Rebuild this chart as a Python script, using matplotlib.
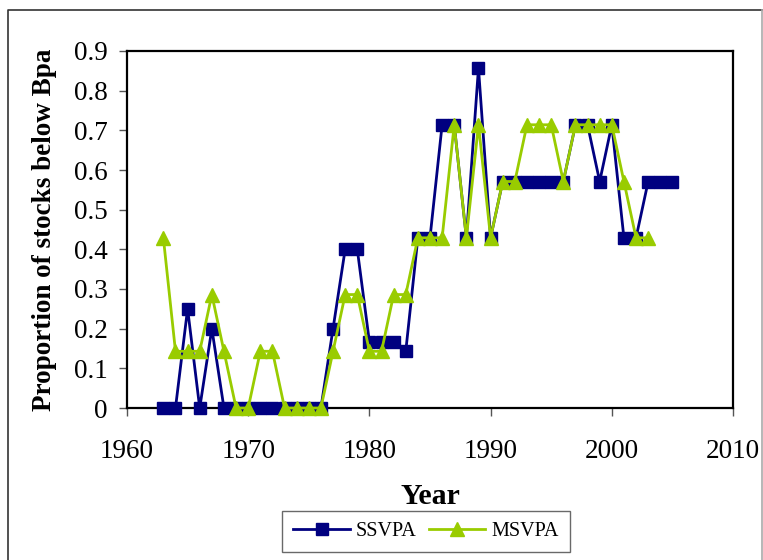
#!/usr/bin/env python3
"""Proportion of stocks below Bpa by year, SSVPA vs MSVPA."""
import matplotlib
matplotlib.use('Agg')
import matplotlib.pyplot as plt
from matplotlib.lines import Line2D

# SSVPA series
ssvpa_years = list(range(1963, 2006))
ssvpa_values = [0, 0, 0.25, 0, 0.2, 0, 0, 0, 0, 0,
                0, 0, 0, 0, 0.2, 0.4, 0.4, 0.167, 0.167, 0.167,
                0.143, 0.429, 0.429, 0.714, 0.714, 0.429, 0.857, 0.429, 0.571, 0.571,
                0.571, 0.571, 0.571, 0.571, 0.714, 0.714, 0.571, 0.714, 0.429, 0.429,
                0.571, 0.571, 0.571]

# MSVPA series
msvpa_years = list(range(1963, 2004))
msvpa_values = [0.429, 0.143, 0.143, 0.143, 0.286, 0.143, 0, 0, 0.143, 0.143,
                0, 0, 0, 0, 0.143, 0.286, 0.286, 0.143, 0.143, 0.286,
                0.286, 0.429, 0.429, 0.429, 0.714, 0.429, 0.714, 0.429, 0.571, 0.571,
                0.714, 0.714, 0.714, 0.571, 0.714, 0.714, 0.714, 0.714, 0.571, 0.429,
                0.429]

x_ticks = [1960, 1970, 1980, 1990, 2000, 2010]
y_ticks = [0, 0.1, 0.2, 0.3, 0.4, 0.5, 0.6, 0.7, 0.8, 0.9]
y_tick_labels = ['0', '0.1', '0.2', '0.3', '0.4', '0.5', '0.6', '0.7', '0.8', '0.9']

plt.rcParams['font.family'] = ['Liberation Serif', 'DejaVu Serif']

W, H = 763, 560
fig = plt.figure(figsize=(W / 100, H / 100), dpi=100)
ax = fig.add_axes([127 / W, 1 - 408 / H, 606 / W, 357 / H])

# Chart frame: dark top/left edge, light grey right edge, open bottom
fig.add_artist(Line2D([8 / W, 8 / W, 762 / W], [0, 1 - 10 / H, 1 - 10 / H],
                      transform=fig.transFigure, color='#333333', linewidth=1.2))
fig.add_artist(Line2D([762 / W, 762 / W], [0, 1 - 10 / H],
                      transform=fig.transFigure, color='#aaaaaa', linewidth=1.2))

ax.plot(ssvpa_years, ssvpa_values, color='#000080', linewidth=2,
        marker='s', markersize=9, markerfacecolor='#000080',
        markeredgecolor='#000080', label='SSVPA', clip_on=False, zorder=3)
ax.plot(msvpa_years, msvpa_values, color='#99CC00', linewidth=2,
        marker='^', markersize=10, markerfacecolor='#99CC00',
        markeredgecolor='#99CC00', label='MSVPA', clip_on=False, zorder=4)

ax.set_xlim(1960, 2010)
ax.set_ylim(0, 0.9)
ax.set_xticks(x_ticks)
ax.set_yticks(y_ticks)
ax.set_yticklabels(y_tick_labels)
ax.tick_params(axis='both', direction='out', length=6, width=1.0,
               labelsize=19.5, color='#555555')
ax.tick_params(axis='x', pad=16.5)
ax.tick_params(axis='y', pad=8)
for spine in ax.spines.values():
    spine.set_linewidth(1.6)

ax.set_xlabel('Year', fontsize=21.5, fontweight='bold')
ax.xaxis.set_label_coords(0.5, (408 - 483) / 357)
ax.set_ylabel('Proportion of stocks below Bpa', fontsize=19.5,
              fontweight='bold', labelpad=12)

leg = ax.legend(loc='center', bbox_to_anchor=(426 / W, 1 - 531.5 / H),
                bbox_transform=fig.transFigure, ncol=2,
                fontsize=14.5, frameon=True, fancybox=False, edgecolor='#444444',
                handlelength=2.8, columnspacing=0.6, handletextpad=0.3,
                borderpad=0.55, borderaxespad=0)
leg.get_frame().set_linewidth(1.0)

fig.savefig('out.png', dpi=100)
